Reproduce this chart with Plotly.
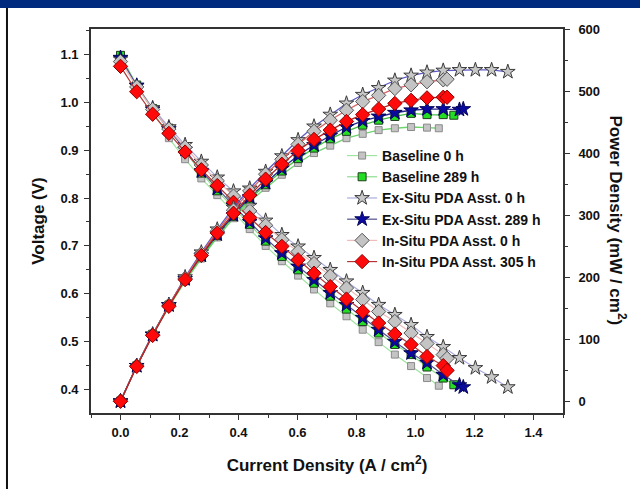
import plotly.graph_objects as go

# ---------------- data ----------------
bl0_j = [0.000, 0.055, 0.109, 0.164, 0.219, 0.274, 0.328, 0.383, 0.438, 0.492, 0.547,
         0.602, 0.656, 0.711, 0.766, 0.821, 0.875, 0.930, 0.985, 1.039, 1.079]
bl0_v = [1.098, 1.034, 0.983, 0.925, 0.881, 0.841, 0.806, 0.770, 0.735, 0.700, 0.668,
         0.638, 0.609, 0.580, 0.553, 0.525, 0.499, 0.473, 0.449, 0.424, 0.408]
bl0_p = [0, 57, 107, 152, 193, 230, 264, 295, 322, 344, 365,
         384, 400, 412, 424, 431, 437, 440, 442, 441, 440]

bl289_j = [0.000, 0.055, 0.109, 0.164, 0.219, 0.274, 0.328, 0.383, 0.438, 0.492, 0.547,
           0.602, 0.656, 0.711, 0.766, 0.821, 0.875, 0.930, 0.985, 1.039, 1.094, 1.130]
bl289_v = [1.098, 1.036, 0.987, 0.946, 0.898, 0.852, 0.815, 0.779, 0.745, 0.710, 0.678,
           0.650, 0.622, 0.595, 0.568, 0.542, 0.518, 0.494, 0.473, 0.447, 0.424, 0.410]
bl289_p = [0, 57, 108, 155, 197, 233, 267, 298, 326, 349, 371,
           391, 408, 423, 435, 445, 453, 459, 464, 462, 462, 461]

ex0_j = [0.000, 0.055, 0.109, 0.164, 0.219, 0.274, 0.328, 0.383, 0.438, 0.492, 0.547,
         0.602, 0.656, 0.711, 0.766, 0.821, 0.875, 0.930, 0.985, 1.039, 1.094, 1.149,
         1.203, 1.258, 1.313]
ex0_v = [1.090, 1.034, 0.988, 0.948, 0.911, 0.876, 0.843, 0.814, 0.784, 0.753, 0.723,
         0.699, 0.675, 0.650, 0.626, 0.602, 0.577, 0.556, 0.535, 0.510, 0.489, 0.466,
         0.445, 0.426, 0.405]
ex0_p = [0, 57, 108, 155, 200, 240, 277, 312, 343, 370, 395,
         421, 443, 462, 480, 494, 505, 517, 525, 530, 533, 534,
         534, 534, 531]

ex289_j = [0.000, 0.055, 0.109, 0.164, 0.219, 0.274, 0.328, 0.383, 0.438, 0.492, 0.547,
           0.602, 0.656, 0.711, 0.766, 0.821, 0.875, 0.930, 0.985, 1.039, 1.094, 1.149,
           1.162]
ex289_v = [1.093, 1.035, 0.985, 0.944, 0.901, 0.856, 0.820, 0.784, 0.750, 0.716, 0.685,
           0.657, 0.629, 0.602, 0.577, 0.550, 0.525, 0.500, 0.476, 0.456, 0.431, 0.409,
           0.405]
ex289_p = [0, 57, 107, 155, 197, 235, 269, 300, 329, 352, 375,
           396, 413, 428, 442, 452, 459, 465, 469, 471, 471, 470,
           471]

in0_j = [0.000, 0.055, 0.109, 0.164, 0.219, 0.274, 0.328, 0.383, 0.438, 0.492, 0.547,
         0.602, 0.656, 0.711, 0.766, 0.821, 0.875, 0.930, 0.985, 1.039, 1.094, 1.107]
in0_v = [1.085, 1.032, 0.985, 0.944, 0.906, 0.869, 0.836, 0.804, 0.773, 0.743, 0.713,
         0.688, 0.663, 0.637, 0.612, 0.588, 0.563, 0.542, 0.518, 0.496, 0.473, 0.465]
in0_p = [0, 57, 107, 155, 198, 238, 274, 308, 339, 366, 390,
         414, 435, 453, 469, 483, 493, 504, 510, 515, 518, 519]

in305_j = [0.000, 0.055, 0.109, 0.164, 0.219, 0.274, 0.328, 0.383, 0.438, 0.492, 0.547,
           0.602, 0.656, 0.711, 0.766, 0.821, 0.875, 0.930, 0.985, 1.039, 1.094, 1.107]
in305_v = [1.075, 1.022, 0.975, 0.935, 0.896, 0.859, 0.826, 0.791, 0.759, 0.728, 0.699,
           0.671, 0.643, 0.615, 0.589, 0.563, 0.539, 0.516, 0.494, 0.469, 0.450, 0.440]
in305_p = [0, 56, 106, 153, 196, 235, 271, 303, 332, 358, 382,
           404, 422, 437, 451, 462, 471, 480, 485, 489, 490, 490]

series_names = ["Baseline 0 h", "Baseline 289 h", "Ex-Situ PDA Asst. 0 h",
                "Ex-Situ PDA Asst. 289 h", "In-Situ PDA Asst. 0 h", "In-Situ PDA Asst. 305 h"]

x_ticks = [0.0, 0.2, 0.4, 0.6, 0.8, 1.0, 1.2, 1.4]
v_ticks = [0.4, 0.5, 0.6, 0.7, 0.8, 0.9, 1.0, 1.1]
p_ticks = [0, 100, 200, 300, 400, 500, 600]

# ---------------- styles ----------------
styles = [
    dict(symbol="square", size=7, fill="#C4C4C4", edge="#8A8A8A", vline="#9EE49E", pline="#6ED46E"),
    dict(symbol="square", size=8, fill="#22DD22", edge="#1F3F1F", vline="#8FDC8F", pline="#45BE45"),
    dict(symbol="star", size=11, fill="#C8C8C8", edge="#3A3A3A", vline="#ABABDD", pline="#5C5CC4"),
    dict(symbol="star", size=11, fill="#0A0AA0", edge="#05055A", vline="#50508C", pline="#26268E"),
    dict(symbol="diamond", size=11, fill="#C4C4C4", edge="#555555", vline="#F0BBBB", pline="#D86464"),
    dict(symbol="diamond", size=11, fill="#FF0A0A", edge="#8A0000", vline="#B43434", pline="#B42222"),
]

data = [(bl0_j, bl0_v, bl0_p), (bl289_j, bl289_v, bl289_p), (ex0_j, ex0_v, ex0_p),
        (ex289_j, ex289_v, ex289_p), (in0_j, in0_v, in0_p), (in305_j, in305_v, in305_p)]

fig = go.Figure()
for name, (j, v, p), st in zip(series_names, data, styles):
    mk = dict(symbol=st["symbol"], size=st["size"], color=st["fill"],
              line=dict(color=st["edge"], width=1))
    fig.add_trace(go.Scatter(x=j, y=v, name=name, mode="lines+markers", yaxis="y",
                             line=dict(color=st["vline"], width=1.2), marker=mk,
                             showlegend=True))
    fig.add_trace(go.Scatter(x=j, y=p, name=name, mode="lines+markers", yaxis="y2",
                             line=dict(color=st["pline"], width=1.3), marker=mk,
                             showlegend=False))

FONT = "Liberation Sans, Arial, sans-serif"
tickfont = dict(family=FONT, size=13, color="#111111", weight="bold")
titlefont = dict(family=FONT, size=17, color="#111111", weight="bold")
axcol = "#333333"

common = dict(showgrid=False, zeroline=False, showline=True, linecolor=axcol, linewidth=1.6,
              ticks="outside", ticklen=5, tickwidth=1.4, tickcolor=axcol, tickfont=tickfont,
              automargin=False)

fig.update_layout(
    width=640, height=489,
    paper_bgcolor="white", plot_bgcolor="white",
    margin=dict(l=91, r=77, t=29, b=76, autoexpand=False),
    xaxis=dict(range=[-0.1, 1.5], tickvals=x_ticks, ticktext=[f"{t:.1f}" for t in x_ticks],
               minor=dict(dtick=0.1, tick0=0, ticks="outside", ticklen=3, tickcolor=axcol, tickwidth=1.2),
               mirror=True, ticklabelstandoff=2,
               title=dict(text="Current Density (A / cm<sup>2</sup>)", font=titlefont, standoff=20),
               **common),
    yaxis=dict(range=[0.351, 1.153], tickvals=v_ticks, ticktext=[f"{t:.1f}" for t in v_ticks],
               minor=dict(dtick=0.05, tick0=0, ticks="outside", ticklen=3, tickcolor=axcol, tickwidth=1.2),
               ticklabelstandoff=3,
               title=dict(text="Voltage (V)", font=titlefont, standoff=12),
               **common),
    yaxis2=dict(range=[-19, 600], overlaying="y", side="right", tickvals=p_ticks,
                minor=dict(dtick=50, tick0=0, ticks="outside", ticklen=3, tickcolor=axcol, tickwidth=1.2),
                ticklabelstandoff=6,
                **common),
    legend=dict(x=0.532, y=0.711, xanchor="left", yanchor="top", bgcolor="rgba(0,0,0,0)",
                font=dict(family=FONT, size=14, color="#111111", weight="bold"),
                tracegroupgap=0, itemwidth=30),
    annotations=[dict(text="Power Density (mW / cm<sup>2</sup>)", textangle=90, xref="paper",
                      yref="paper", x=1.143, y=0.5, showarrow=False, font=titlefont)],
    shapes=[
        dict(type="rect", xref="paper", yref="paper", x0=-0.3, x1=1.3, y0=1.055, y1=1.2,
             fillcolor="#002A7E", line=dict(width=0), layer="above"),
        dict(type="line", xref="paper", yref="paper", x0=-0.178, x1=-0.178, y0=-0.3, y1=1.055,
             line=dict(color="#111111", width=2)),
    ],
)

fig.write_html("out.html", config={"displayModeBar": False},
               post_script="document.body.style.margin='0';")
